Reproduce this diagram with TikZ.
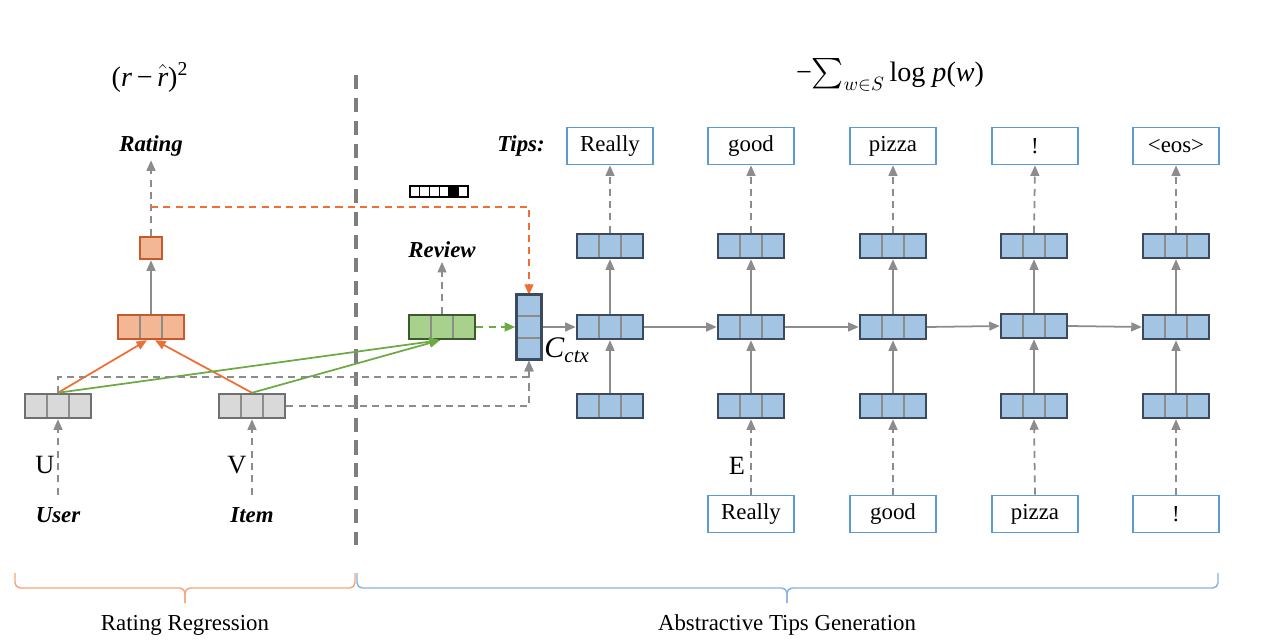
\documentclass[tikz,border=0pt]{standalone}
\usepackage{fontspec}
\setmainfont{Liberation Serif}
\usepackage{amsmath}
\usetikzlibrary{calc, arrows.meta, positioning}

\definecolor{bluefill}{HTML}{A3C4E3}
\definecolor{blueline}{HTML}{3B4A5F}
\definecolor{orfill}{HTML}{F4B796}
\definecolor{orline}{HTML}{C55A2B}
\definecolor{grfill}{HTML}{A9D18E}
\definecolor{grline}{HTML}{3D5B2A}
\definecolor{gyfill}{HTML}{D9D9D9}
\definecolor{gyline}{HTML}{707070}
\definecolor{arrgray}{HTML}{8C8C8C}
\definecolor{arrorange}{HTML}{EE6F35}
\definecolor{arrgreen}{HTML}{6DAA45}
\definecolor{tipline}{HTML}{5B9BD5}
\definecolor{braceor}{HTML}{F2A47A}
\definecolor{braceblue}{HTML}{86B0DE}

\tikzset{
  cellbars/.style={path picture={
    \draw[arrgray, line width=0.9pt]
      ($(path picture bounding box.south west)!1/3!(path picture bounding box.south east)$) -- ($(path picture bounding box.north west)!1/3!(path picture bounding box.north east)$)
      ($(path picture bounding box.south west)!2/3!(path picture bounding box.south east)$) -- ($(path picture bounding box.north west)!2/3!(path picture bounding box.north east)$);
  }},
  vcellbars/.style={path picture={
    \draw[arrgray, line width=0.9pt]
      ($(path picture bounding box.south west)!1/3!(path picture bounding box.north west)$) -- ($(path picture bounding box.south east)!1/3!(path picture bounding box.north east)$)
      ($(path picture bounding box.south west)!2/3!(path picture bounding box.north west)$) -- ($(path picture bounding box.south east)!2/3!(path picture bounding box.north east)$);
  }},
  vecbox/.style={line width=1.4pt, minimum width=1.32cm, minimum height=0.48cm, inner sep=0pt},
  bvec/.style={vecbox, cellbars, draw=blueline, fill=bluefill},
  ovec/.style={vecbox, cellbars, draw=orline, fill=orfill},
  gvec/.style={vecbox, cellbars, draw=grline, fill=grfill},
  yvec/.style={vecbox, cellbars, draw=gyline, fill=gyfill},
  tipbox/.style={draw=tipline, line width=0.9pt, fill=white, minimum width=1.72cm, minimum height=0.74cm, inner sep=0pt, font=\fontsize{13}{15}\selectfont},
  lbl/.style={font=\fontsize{13}{15}\selectfont\bfseries\itshape, inner sep=2pt},
  txt/.style={font=\fontsize{13}{15}\selectfont, inner sep=2pt},
  garr/.style={draw=arrgray, line width=1pt, -{Triangle[length=6pt,width=5pt]}},
  oarr/.style={draw=arrorange, line width=1pt, -{Triangle[length=6pt,width=5pt]}},
  grarr/.style={draw=arrgreen, line width=1pt, -{Triangle[length=6pt,width=5pt]}},
  dashline/.style={dash pattern=on 4pt off 3pt},
  divider/.style={draw=gyline!90, line width=1.8pt, dash pattern=on 8pt off 5pt},
  bracket/.style={line width=0.8pt, rounded corners=3pt},
}

\begin{document}
\begin{tikzpicture}[x=0.02cm, y=-0.02cm]
    \useasboundingbox (0,0) rectangle (1280,644);

    % rating regression side
    \node[font=\fontsize{16}{18}\selectfont] (mse) at (150,77) {(\textit{r}\,−\,$\hat{\text{\itshape r}}$)\textsuperscript{2}};
    \node[lbl] (rating) at (151,146) {Rating};
    \node[vecbox, draw=orline, fill=orfill, minimum width=0.44cm, minimum height=0.44cm] (ratebox) at (151,248) {};
    \node[ovec] (rmlp) at (151,327) {};
    \node[yvec] (user) at (58,406) {};
    \node[yvec] (item) at (252,406) {};
    \node[lbl] (userlbl) at (58,515) {User};
    \node[lbl] (itemlbl) at (252,515) {Item};
    \node[txt, font=\fontsize{15}{17}\selectfont] (ulbl) at (45,465) {U};
    \node[txt, font=\fontsize{15}{17}\selectfont] (vlbl) at (237,465) {V};
    \coordinate (tap) at (151,207);

    \draw[garr, dashline] (ratebox.north) -- (rating.south);
    \draw[oarr, dashline] (tap) -| (529,295);
    \draw[garr] (rmlp.north) -- (ratebox.south);
    \draw[oarr] (user.north) -- ($(rmlp.south)+(-4,0)$);
    \draw[oarr] (item.north) -- ($(rmlp.south)+(4,0)$);
    \draw[garr, dashline] ([yshift=0.18cm]userlbl.north) -- (user.south);
    \draw[garr, dashline] ([yshift=0.18cm]itemlbl.north) -- (item.south);

    \draw[divider] (356,75) -- (356,545);

    % review and context
    \node[lbl] (reviewlbl) at (442,250) {Review};
    \node[gvec] (review) at (442,327) {};
    \node[vecbox, vcellbars, draw=blueline, fill=bluefill, minimum width=0.5cm, minimum height=1.3cm] (ctx) at (529,327) {};
    \node[font=\fontsize{17}{19}\selectfont, inner sep=0pt] (ctxlbl) at (567,350) {\textit{C}\textsubscript{\textit{ctx}}};
    \node[draw=black, line width=0.6pt, minimum width=1.16cm, minimum height=0.22cm, inner sep=0pt] (onehot) at (439,191.5) {};
    \fill[black] (448.7,186) rectangle (458.3,197);
    \draw[black, line width=0.5pt] (419.7,186) -- (419.7,197) (429.3,186) -- (429.3,197) (439,186) -- (439,197)
      (448.7,186) -- (448.7,197) (458.3,186) -- (458.3,197);

    \draw[grarr] (user.north) -- ($(review.south)+(-2,0)$);
    \draw[grarr] (item.north) -- ($(review.south)+(-2,0)$);
    \draw[garr, dashline] (review.north) -- (reviewlbl.south);
    \draw[grarr, dashline] (review.east) -- (ctx.west);
    \draw[garr, dashline] (user.north) -- (58,377) -| (ctx.south);
    \draw[garr, dashline] (item.east) -| (ctx.south);

    % tips generation
    \node[lbl] (tipslbl) at (521,146) {Tips:};
    \node[font=\fontsize{16}{18}\selectfont] (nll) at (890,75) {−$\sum\nolimits_{w\in S}$\,log \textit{p}(\textit{w})};

    \node[tipbox] (out1) at (610,146) {Really};
    \node[tipbox] (out2) at (751,146) {good};
    \node[tipbox] (out3) at (893,146) {pizza};
    \node[tipbox] (out4) at (1035,146) {!};
    \node[tipbox] (out5) at (1176,146) {<eos>};

    \node[bvec] (top1) at (610,246) {};
    \node[bvec] (top2) at (751,246) {};
    \node[bvec] (top3) at (893,246) {};
    \node[bvec] (top4) at (1034,246) {};
    \node[bvec] (top5) at (1176,246) {};

    \node[bvec] (mid1) at (610,327) {};
    \node[bvec] (mid2) at (751,327) {};
    \node[bvec] (mid3) at (893,327) {};
    \node[bvec] (mid4) at (1034,326) {};
    \node[bvec] (mid5) at (1176,327) {};

    \node[bvec] (bot1) at (610,406) {};
    \node[bvec] (bot2) at (751,406) {};
    \node[bvec] (bot3) at (893,406) {};
    \node[bvec] (bot4) at (1034,406) {};
    \node[bvec] (bot5) at (1176,406) {};

    \node[tipbox] (in2) at (751,514) {Really};
    \node[tipbox] (in3) at (893,514) {good};
    \node[tipbox] (in4) at (1035,514) {pizza};
    \node[tipbox] (in5) at (1176,514) {!};
    \node[txt, font=\fontsize{15}{17}\selectfont] (elbl) at (737,466) {E};

    \draw[garr] (ctx.east) -- (mid1.west);
    \draw[garr] (mid1.east) -- (mid2.west);
    \draw[garr] (mid2.east) -- (mid3.west);
    \draw[garr] (mid3.east) -- (mid4.west);
    \draw[garr] (mid4.east) -- (mid5.west);

    \draw[garr] (bot1.north) -- (mid1.south);
    \draw[garr] (bot2.north) -- (mid2.south);
    \draw[garr] (bot3.north) -- (mid3.south);
    \draw[garr] (bot4.north) -- (mid4.south);
    \draw[garr] (bot5.north) -- (mid5.south);

    \draw[garr] (mid1.north) -- (top1.south);
    \draw[garr] (mid2.north) -- (top2.south);
    \draw[garr] (mid3.north) -- (top3.south);
    \draw[garr] (mid4.north) -- (top4.south);
    \draw[garr] (mid5.north) -- (top5.south);

    \draw[garr, dashline] (top1.north) -- (out1.south);
    \draw[garr, dashline] (top2.north) -- (out2.south);
    \draw[garr, dashline] (top3.north) -- (out3.south);
    \draw[garr, dashline] (top4.north) -- (out4.south);
    \draw[garr, dashline] (top5.north) -- (out5.south);

    \draw[garr, dashline] (in2.north) -- (bot2.south);
    \draw[garr, dashline] (in3.north) -- (bot3.south);
    \draw[garr, dashline] (in4.north) -- (bot4.south);
    \draw[garr, dashline] (in5.north) -- (bot5.south);

    % braces
    \draw[bracket, braceor] (15,573) -- (15,588) -- (185,588) -- (185,603);
    \draw[bracket, braceor] (185,603) -- (185,588) -- (355,588) -- (355,573);
    \draw[bracket, braceblue] (357,573) -- (357,588) -- (787,588) -- (787,603);
    \draw[bracket, braceblue] (787,603) -- (787,588) -- (1218,588) -- (1218,573);
    \node[txt] (rrlbl) at (185,625) {Rating Regression};
    \node[txt] (atglbl) at (787,625) {Abstractive Tips Generation};
\end{tikzpicture}
\end{document}
